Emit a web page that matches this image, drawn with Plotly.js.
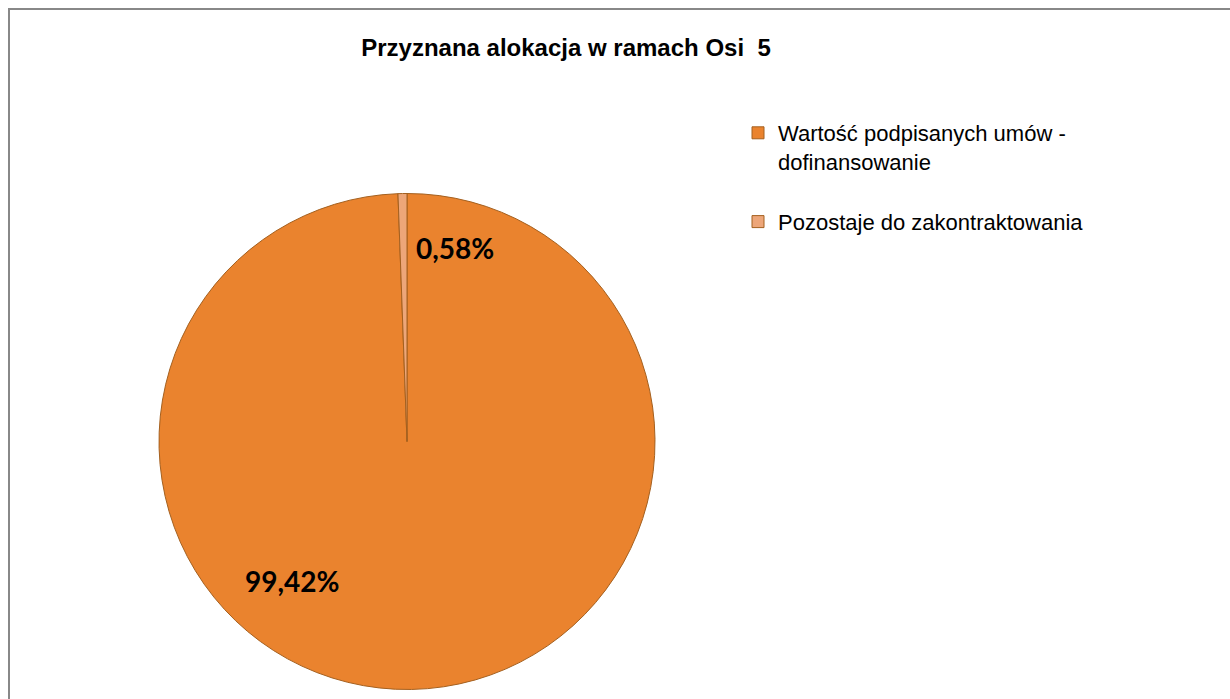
<!DOCTYPE html>
<html>
<head>
<meta charset="utf-8">
<script src="https://cdn.plot.ly/plotly-3.0.1.min.js"></script>
<style>html,body{margin:0;padding:0;background:#fff;}#chart{width:1230px;height:699px;}</style>
</head>
<body>
<div id="chart"></div>
<script>
const chartTitle = "Przyznana alokacja w ramach Osi  5";
const categories = ["Wartość podpisanych umów -<br>dofinansowanie<br>&nbsp;", "Pozostaje do zakontraktowania"];
const values = [99.42, 0.58];
const sliceColors = ["#EA832E", "#EDA679"];

const W = 1230, H = 699;
const px = x => x / W;
const py = y => 1 - y / H;

const total = values.reduce((a, b) => a + b, 0);
const pctText = values.map(v => (v / total * 100).toFixed(2).replace('.', ',') + '%');

const trace = {
  type: 'pie',
  labels: categories,
  values: values,
  sort: false,
  direction: 'clockwise',
  rotation: 0,
  textinfo: 'none',
  hoverinfo: 'label+percent',
  marker: { colors: sliceColors, line: { color: '#A4601F', width: 1 } },
  domain: { x: [px(159), px(655)], y: [py(689.5), py(193.5)] }
};

const layout = {
  width: W, height: H,
  margin: { l: 0, r: 0, t: 0, b: 0 },
  paper_bgcolor: '#ffffff',
  showlegend: true,
  title: {
    text: '<b>' + chartTitle + '</b>',
    x: px(566), xanchor: 'center', xref: 'paper',
    y: py(48), yanchor: 'middle', yref: 'paper',
    font: { family: 'Liberation Sans, Arial, sans-serif', size: 24, color: '#000' }
  },
  legend: {
    x: px(738), xanchor: 'left', y: py(112), yanchor: 'top',
    valign: 'top',
    font: { family: 'Liberation Sans, Arial, sans-serif', size: 22, color: '#000' },
    bgcolor: 'rgba(0,0,0,0)'
  },
  annotations: [
    { text: '<b>' + pctText[1] + '</b>', x: px(455), y: py(248), xref: 'paper', yref: 'paper',
      showarrow: false, xanchor: 'center', yanchor: 'middle',
      font: { family: 'Lato, Calibri, sans-serif', size: 28, color: '#000' } },
    { text: '<b>' + pctText[0] + '</b>', x: px(292), y: py(581), xref: 'paper', yref: 'paper',
      showarrow: false, xanchor: 'center', yanchor: 'middle',
      font: { family: 'Lato, Calibri, sans-serif', size: 28, color: '#000' } }
  ],
  shapes: [
    { type: 'rect', xref: 'paper', yref: 'paper', x0: px(9), x1: px(1240), y0: py(9), y1: py(710),
      line: { color: '#888888', width: 2 }, fillcolor: 'rgba(0,0,0,0)', layer: 'above' }
  ]
};

Plotly.newPlot('chart', [trace], layout, { displayModeBar: false, staticPlot: true });
</script>
</body>
</html>
